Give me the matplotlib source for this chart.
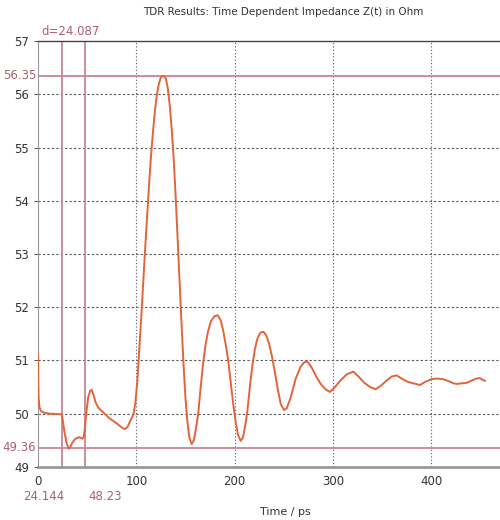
import matplotlib.pyplot as plt

# TDR impedance trace
time_ps = [0, 0.3, 0.6, 1.5, 3, 6, 12, 24,
           25, 27, 29, 31.5, 33, 35, 38, 42, 45, 46.5, 47.5, 49, 51, 53, 54.5,
           56, 58.5, 61.5, 66, 73, 80, 86, 88.5, 91, 94, 97,
           99, 101, 103, 105, 107, 109, 111, 113, 115, 117, 119, 121, 123, 125,
           127.5, 130, 132, 134, 136, 138, 140, 142, 144, 146, 148, 150, 152, 154,
           156.3, 158.5, 160.5, 163, 165.5, 168, 170.5, 173, 176, 179.5, 182.8,
           186, 188.5, 191, 193.5, 196, 198.5, 201, 203.5, 206.2,
           208.5, 211, 213, 215.5, 218, 220.5, 223, 226, 229.2,
           232, 235, 238, 241, 244, 247, 250.3, 253, 257, 262, 267, 271,
           274, 278, 283, 288, 293, 297, 302, 308, 314, 320.8, 326, 332, 338,
           343.5, 349, 355, 360, 364.9, 370, 376, 382, 388.6, 394, 400.5, 406,
           412, 418, 423, 426, 431, 436, 442, 446, 449.6, 452, 454.7]
z_ohm = [51.1, 50.6, 50.3, 50.12, 50.05, 50.02, 50.0, 49.99,
         49.9, 49.65, 49.45, 49.34, 49.38, 49.46, 49.53, 49.56, 49.53, 49.56, 49.7, 50.0, 50.3, 50.43, 50.45,
         50.38, 50.22, 50.11, 50.03, 49.91, 49.82, 49.73, 49.71, 49.75, 49.87, 49.98,
         50.2, 50.6, 51.2, 51.8, 52.45, 53.1, 53.7, 54.3, 54.85, 55.3, 55.7, 56.0, 56.2, 56.32,
         56.35, 56.3, 56.12, 55.8, 55.35, 54.8, 54.1, 53.3, 52.5, 51.7, 50.95, 50.3, 49.85, 49.55,
         49.43, 49.5, 49.7, 50.0, 50.5, 50.95, 51.3, 51.55, 51.74, 51.83, 51.85,
         51.75, 51.55, 51.3, 51.0, 50.6, 50.2, 49.85, 49.6, 49.49,
         49.55, 49.8, 50.05, 50.5, 50.9, 51.2, 51.4, 51.52, 51.54,
         51.48, 51.32, 51.08, 50.78, 50.45, 50.18, 50.07, 50.1, 50.3, 50.65, 50.88, 50.97,
         50.98, 50.88, 50.7, 50.55, 50.45, 50.41, 50.5, 50.63, 50.74, 50.79, 50.7, 50.58, 50.5,
         50.46, 50.53, 50.63, 50.7, 50.72, 50.66, 50.6, 50.57, 50.54, 50.6, 50.65, 50.66,
         50.65, 50.61, 50.57, 50.56, 50.57, 50.58, 50.63, 50.66, 50.67, 50.64, 50.62]

x_ticks = [0, 100, 200, 300, 400]
y_ticks = [49, 50, 51, 52, 53, 54, 55, 56, 57]
cursor_t = [24.144, 48.23]
cursor_z = [56.35, 49.36]
delta_label = 'd=24.087'

curve_col = '#e2643a'
cursor_col = '#c98593'
label_col = '#a9606e'
text_col = '#333333'

fig = plt.figure(figsize=(5, 5.2), dpi=100)
ax = fig.add_axes([0.076, 0.102, 0.924, 0.819])

ax.plot(time_ps, z_ohm, color=curve_col, lw=1.4, zorder=3)

for t in cursor_t:
    ax.axvline(t, color=cursor_col, lw=1.3, zorder=2)
for z in cursor_z:
    ax.axhline(z, color=cursor_col, lw=1.3, zorder=2)

ax.set_xlim(0, 470)
ax.set_ylim(49, 57)
ax.set_xticks(x_ticks)
ax.set_yticks(y_ticks)
ax.tick_params(labelsize=8.5, colors=text_col, length=3, width=0.6)
ax.tick_params(axis='x', length=0, pad=6)

for t in x_ticks[1:]:
    ax.axvline(t, color='#555555', lw=0.8, ls=(0, (1, 2)), zorder=1)
for z in y_ticks[1:-1]:
    ax.axhline(z, color='#555555', lw=0.8, ls=(0, (2, 2)), zorder=1)

ax.spines['right'].set_visible(False)
ax.spines['top'].set_color('#444444')
ax.spines['top'].set_linewidth(1.0)
ax.spines['left'].set_color('#999999')
ax.spines['bottom'].set_color('#999999')
ax.spines['bottom'].set_linewidth(2)

# cursor readouts
ax.text(3, 57.05, delta_label, color=label_col, fontsize=8.5, va='bottom', ha='left')
ax.text(-2, cursor_z[0], '56.35', color=label_col, fontsize=8.5, va='center', ha='right')
ax.text(-2, cursor_z[1], '49.36', color=label_col, fontsize=8.5, va='center', ha='right')
fig.text(23 / 500, 1 - 496 / 520, '24.144', color=label_col, fontsize=8.5, va='center', ha='left')
fig.text(88 / 500, 1 - 496 / 520, '48.23', color=label_col, fontsize=8.5, va='center', ha='left')

fig.text(283 / 500, 1 - 12 / 520, 'TDR Results: Time Dependent Impedance Z(t) in Ohm',
         ha='center', va='center', fontsize=7.5, color=text_col)
fig.text(285 / 500, 1 - 512 / 520, 'Time / ps', ha='center', va='center',
         fontsize=8, color=text_col)

fig.savefig('out.png', dpi=100)
